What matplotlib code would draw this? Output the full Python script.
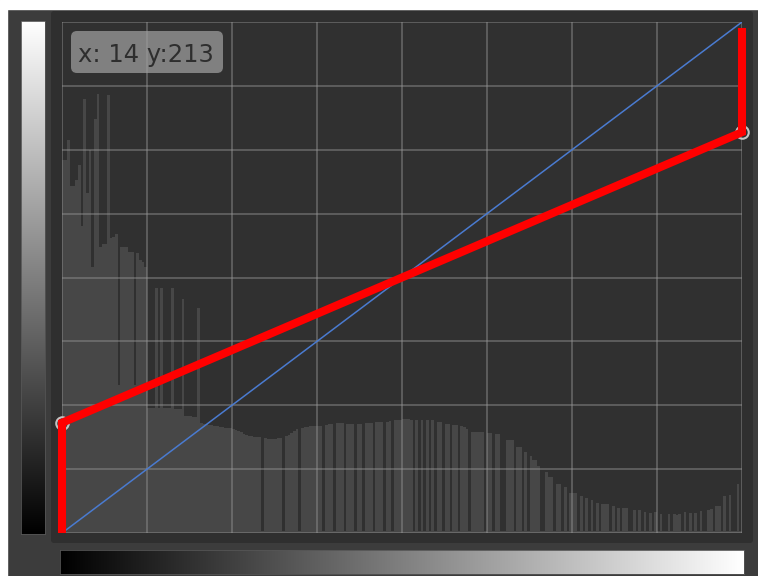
import numpy as np
import matplotlib.pyplot as plt
from matplotlib.patches import Rectangle, FancyBboxPatch

W, H = 758, 576

# image histogram, one value per level (per-mille of the plot height)
hist_dark = [730, 730, 770, 680, 680, 690, 720, 600, 850, 665,
             750, 520, 810, 860, 560, 565, 565, 857, 577, 580,
             585, 290, 560, 560, 560, 550, 550, 290, 548, 534,
             530, 520, 245, 245, 245, 480, 245, 480, 245, 245,
             245, 480, 243, 243, 243, 457, 228, 228, 228, 227,
             227, 440]
hist_mid = [215, 214, 213, 212, 211, 210, 209, 208, 207, 206,
            205, 205, 204, 202, 200, 198, 193, 191, 190, 190,
            188, 188, 188, 3, 186, 184, 183, 183, 184, 185,
            186, 3, 190, 192, 195, 200, 203, 3, 206, 207,
            208, 210, 210, 210, 210, 210, 3, 212, 213, 213,
            3, 215, 215, 215, 3, 213, 213, 213, 3, 214,
            214, 3, 215, 215, 216, 3, 217, 217, 218, 3,
            218, 220, 3, 221, 222, 222, 223, 223, 223, 222,
            3, 222, 3, 221, 3, 222, 3, 221, 3, 218,
            217, 3, 213, 213, 3, 212, 212, 3, 209, 207,
            203, 3]
hist_light = [198, 198, 198, 198, 197, 3, 196, 196, 3, 194,
              194, 3, 3, 182, 182, 182, 3, 168, 168, 3,
              158, 3, 151, 143, 143, 131, 3, 3, 120, 110,
              110, 3, 96, 96, 3, 90, 3, 78, 78, 78,
              3, 72, 3, 68, 3, 65, 3, 59, 3, 57,
              57, 57, 3, 53, 3, 49, 3, 49, 49, 3,
              3, 45, 3, 45, 3, 41, 3, 40, 3, 41,
              3, 37, 3, 3, 37, 3, 37, 36, 37, 3,
              41, 3, 39, 3, 39, 3, 43, 3, 3, 45,
              47, 3, 52, 53, 3, 72, 3, 74, 3, 3,
              96, 3]
hist = np.array(hist_dark + hist_mid + hist_light) / 1000.0

# tone curve (red), identity (blue) and the two control points
curve_x = [0, 0, 255, 255]
curve_y = [0, 55, 200, 252]
diag_x = [0, 255]
diag_y = [0, 255]
ctrl_x = [0, 255]
ctrl_y = [55, 200]

tooltip = "x: 14 y:213"
n_div = 8


def px_axes(fig, x0, y0, x1, y1):
    # pixel box of the screenshot (origin top-left) -> figure fraction
    return fig.add_axes([x0 / W, 1 - y1 / H, (x1 - x0) / W, (y1 - y0) / H])


fig = plt.figure(figsize=(W / 100, H / 100), dpi=100, facecolor="#3c3c3c")

# background frame, drawn in pixel coordinates
bg = px_axes(fig, 0, 0, W, H)
bg.set_xlim(0, W)
bg.set_ylim(H, 0)
bg.axis("off")
bg.add_patch(Rectangle((0, 0), W, 9, color="white"))
bg.add_patch(Rectangle((0, 0), 7, H, color="white"))
bg.add_patch(FancyBboxPatch((51, 11), 702, 532,
                            boxstyle="round,pad=0,rounding_size=3",
                            fc="#2f2f2f", ec="none"))

# histogram
hax = px_axes(fig, 62, 22, 742, 533)
hax.set_facecolor("#303030")
hax.bar(np.arange(len(hist)), hist, width=1, align="edge",
        color="#474747", linewidth=0)
hax.set_xlim(0, len(hist))
hax.set_ylim(0, 1)
hax.set_xticks([])
hax.set_yticks([])
for s in hax.spines.values():
    s.set_visible(False)

# curves + grid
ax = px_axes(fig, 62, 22, 742, 533)
ax.patch.set_alpha(0)
ax.set_xlim(0, 255)
ax.set_ylim(0, 255)
ticks = np.linspace(0, 255, n_div + 1)
ax.set_xticks(ticks)
ax.set_yticks(ticks)
ax.tick_params(length=0, labelbottom=False, labelleft=False)
ax.grid(True, color="#9a9a9a", alpha=0.45, linewidth=1.3)
for s in ax.spines.values():
    s.set_visible(False)

ax.plot(diag_x, diag_y, color="#4a7bd0", linewidth=1.1, zorder=3)
ax.plot(ctrl_x, ctrl_y, "o", ms=9, mfc="none", mec="#c4c4c4", mew=1.5,
        clip_on=False, zorder=3)
ax.plot(curve_x, curve_y, color="#ff0000", linewidth=5.8,
        solid_capstyle="butt", solid_joinstyle="miter",
        clip_on=False, zorder=4)

# gradient bars
grad = np.linspace(0, 1, 256)
lax = px_axes(fig, 21, 21, 45, 534)
lax.imshow(grad[::-1, None], cmap="gray", aspect="auto", vmin=0, vmax=1)
lax.set_xticks([])
lax.set_yticks([])
for s in lax.spines.values():
    s.set_color("#555555")
    s.set_linewidth(0.6)

bax = px_axes(fig, 60, 550, 744, 574)
bax.imshow(grad[None, :], cmap="gray", aspect="auto", vmin=0, vmax=1)
bax.set_xticks([])
bax.set_yticks([])
for s in bax.spines.values():
    s.set_color("#555555")
    s.set_linewidth(0.6)

# tooltip on top
top = px_axes(fig, 0, 0, W, H)
top.set_xlim(0, W)
top.set_ylim(H, 0)
top.axis("off")
top.patch.set_alpha(0)
top.add_patch(FancyBboxPatch((71, 31), 152, 42,
                             boxstyle="round,pad=0,rounding_size=6",
                             fc="#a0a0a0", alpha=0.72, ec="none"))
top.text(78, 62, tooltip, fontsize=17.5, color="#2e2e2e",
         va="baseline", ha="left", family="DejaVu Sans")

fig.savefig("out.png", dpi=100, facecolor=fig.get_facecolor())
